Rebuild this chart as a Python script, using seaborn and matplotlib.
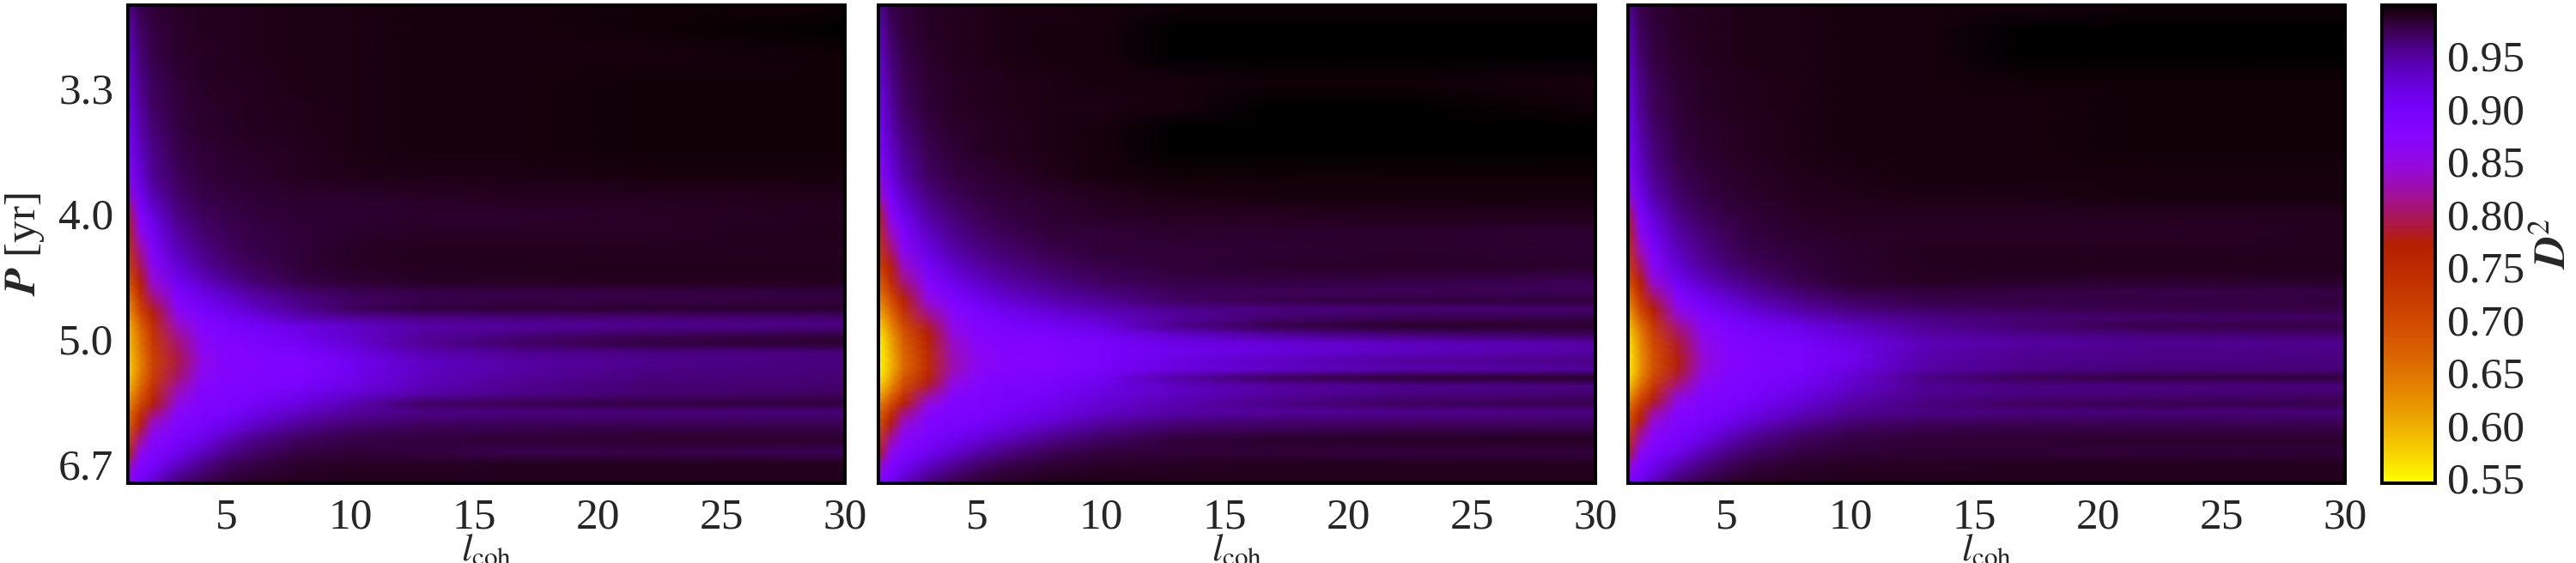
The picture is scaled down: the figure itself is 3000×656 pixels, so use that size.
import numpy as np
import pandas as pd
import matplotlib
matplotlib.use('Agg')
import matplotlib.pyplot as plt
import seaborn as sns

# coherence length samples and frequency rows (1/yr), top row first
l_coh = [1, 1.5, 2, 3, 4, 5, 6, 8, 10, 13, 17, 22, 30]
freq = [.33322, .32329, .31301, .30274, .29247, .28390, .27534, .26507, .25651,
        .24966, .24281, .23596, .22911, .22226, .21884, .21541, .21199, .20856,
        .20514, .20171, .19829, .19486, .19144, .18801, .18459, .18116, .17774,
        .17431, .17089, .16746, .16404, .15993, .15479, .15034, .14623, .14247]

x_ticks = [5, 10, 15, 20, 25, 30]
y_ticks = [.3, .25, .2, .15]
y_labels = ['3.3', '4.0', '5.0', '6.7']
cbar_ticks = [.55, .6, .65, .7, .75, .8, .85, .9, .95]

# D^2 x 1000
d2_left = [
    [955, 975, 981, 986, 988, 989, 990, 991, 992, 993, 993, 995, 995],
    [938, 968, 978, 985, 988, 989, 990, 991, 992, 993, 993, 996, 999],
    [930, 962, 975, 984, 987, 989, 990, 991, 992, 993, 994, 994, 995],
    [920, 956, 971, 982, 986, 988, 989, 991, 992, 993, 994, 995, 995],
    [910, 950, 968, 980, 985, 987, 988, 990, 992, 993, 994, 995, 995],
    [900, 942, 963, 978, 984, 986, 988, 990, 991, 993, 994, 995, 995],
    [890, 935, 957, 975, 982, 985, 987, 989, 991, 993, 994, 995, 995],
    [870, 925, 952, 971, 979, 983, 985, 988, 990, 991, 992, 993, 994],
    [835, 905, 940, 965, 975, 980, 982, 984, 985, 987, 988, 989, 990],
    [790, 880, 920, 958, 970, 976, 980, 983, 983, 984, 985, 987, 988],
    [760, 855, 905, 948, 965, 973, 978, 982, 984, 986, 987, 987, 990],
    [735, 820, 885, 938, 958, 968, 975, 982, 986, 988, 988, 989, 989],
    [715, 795, 865, 925, 950, 963, 971, 981, 986, 989, 990, 990, 990],
    [680, 770, 840, 905, 932, 950, 961, 976, 982, 986, 987, 988, 988],
    [660, 750, 820, 890, 920, 936, 950, 965, 973, 976, 977, 978, 979],
    [640, 730, 800, 876, 908, 926, 941, 958, 969, 975, 977, 978, 979],
    [625, 712, 782, 864, 898, 915, 931, 952, 970, 980, 982, 983, 984],
    [610, 690, 762, 848, 886, 902, 916, 940, 950, 958, 962, 964, 966],
    [595, 670, 742, 830, 878, 892, 902, 918, 932, 945, 950, 955, 958],
    [590, 658, 730, 815, 872, 888, 896, 912, 930, 950, 962, 971, 977],
    [586, 652, 722, 805, 865, 882, 890, 905, 926, 953, 968, 979, 985],
    [582, 645, 717, 797, 860, 878, 884, 894, 915, 944, 955, 960, 962],
    [577, 640, 708, 790, 855, 876, 881, 888, 908, 936, 947, 955, 960],
    [575, 640, 710, 795, 860, 878, 882, 888, 908, 935, 948, 958, 962],
    [580, 648, 718, 803, 866, 881, 884, 890, 910, 937, 951, 960, 964],
    [593, 662, 733, 820, 873, 883, 886, 896, 916, 941, 955, 963, 966],
    [610, 680, 750, 835, 880, 885, 891, 910, 928, 947, 958, 966, 970],
    [630, 702, 770, 850, 884, 890, 899, 920, 940, 968, 974, 979, 982],
    [650, 730, 798, 868, 888, 897, 910, 934, 950, 958, 960, 961, 962],
    [662, 760, 825, 878, 893, 907, 923, 945, 958, 966, 968, 969, 970],
    [680, 785, 848, 885, 900, 920, 937, 958, 968, 974, 976, 977, 978],
    [710, 815, 868, 892, 913, 938, 955, 970, 976, 980, 982, 984, 985],
    [760, 855, 885, 908, 936, 954, 966, 978, 982, 979, 974, 975, 973],
    [815, 878, 895, 930, 954, 968, 976, 984, 987, 987, 988, 988, 988],
    [850, 890, 912, 950, 966, 976, 982, 987, 988, 988, 988, 988, 988],
    [875, 900, 932, 962, 974, 981, 985, 988, 989, 989, 990, 990, 990],
]
d2_mid = [
    [950, 975, 982, 987, 989, 990, 991, 992, 993, 995, 996, 996, 996],
    [935, 968, 979, 986, 989, 990, 991, 993, 994, 999, 999, 999, 999],
    [925, 962, 976, 985, 988, 990, 991, 993, 994, 997, 999, 999, 999],
    [915, 955, 972, 983, 987, 989, 990, 992, 993, 994, 995, 995, 994],
    [905, 948, 968, 981, 986, 988, 990, 992, 992, 993, 998, 998, 996],
    [895, 940, 962, 978, 984, 987, 989, 991, 993, 999, 999, 999, 997],
    [880, 930, 955, 974, 982, 986, 988, 991, 994, 999, 999, 999, 998],
    [855, 915, 945, 968, 977, 982, 985, 990, 993, 995, 996, 996, 995],
    [825, 890, 930, 958, 970, 977, 981, 985, 988, 992, 993, 993, 993],
    [780, 865, 910, 948, 963, 972, 977, 983, 986, 988, 989, 990, 990],
    [750, 835, 890, 935, 955, 966, 973, 981, 982, 984, 985, 985, 983],
    [730, 805, 865, 920, 945, 958, 966, 976, 981, 982, 983, 985, 983],
    [710, 775, 835, 900, 930, 946, 956, 968, 975, 981, 985, 987, 984],
    [670, 740, 805, 875, 910, 930, 943, 958, 968, 975, 977, 976, 973],
    [650, 715, 785, 860, 900, 920, 935, 950, 960, 970, 973, 972, 972],
    [630, 690, 762, 845, 888, 908, 924, 942, 952, 968, 975, 980, 982],
    [610, 670, 738, 825, 875, 895, 912, 930, 942, 955, 960, 963, 965],
    [590, 650, 718, 805, 865, 885, 900, 918, 930, 950, 965, 972, 976],
    [575, 630, 698, 785, 855, 880, 890, 905, 920, 955, 975, 985, 985],
    [560, 615, 683, 770, 845, 875, 885, 892, 905, 930, 950, 962, 970],
    [550, 605, 673, 760, 835, 870, 880, 885, 897, 915, 925, 935, 945],
    [547, 600, 665, 750, 830, 866, 876, 882, 894, 912, 922, 935, 948],
    [547, 595, 660, 745, 825, 862, 874, 880, 894, 918, 935, 950, 958],
    [548, 597, 662, 747, 828, 865, 877, 884, 897, 920, 932, 942, 950],
    [555, 610, 678, 762, 840, 872, 882, 890, 907, 945, 970, 982, 985],
    [575, 630, 698, 785, 855, 878, 888, 896, 914, 935, 948, 955, 960],
    [600, 660, 728, 815, 870, 884, 892, 902, 920, 936, 950, 960, 965],
    [630, 695, 762, 845, 880, 888, 896, 910, 926, 942, 958, 970, 975],
    [660, 735, 803, 868, 886, 892, 900, 916, 932, 945, 950, 955, 958],
    [680, 765, 828, 880, 890, 896, 908, 926, 944, 958, 963, 966, 967],
    [700, 790, 850, 885, 897, 906, 920, 940, 956, 968, 973, 975, 975],
    [730, 820, 868, 892, 908, 923, 937, 956, 968, 980, 985, 987, 988],
    [775, 855, 885, 906, 928, 944, 957, 972, 979, 982, 981, 980, 980],
    [825, 880, 900, 930, 950, 963, 972, 981, 985, 987, 988, 988, 988],
    [855, 895, 915, 948, 963, 974, 981, 986, 988, 989, 989, 989, 989],
    [880, 905, 935, 962, 974, 981, 985, 989, 990, 991, 991, 991, 992],
]
d2_right = [
    [955, 976, 982, 987, 989, 990, 991, 992, 993, 993, 994, 995, 995],
    [940, 970, 980, 986, 989, 990, 991, 992, 993, 993, 997, 999, 999],
    [930, 965, 977, 985, 988, 990, 991, 992, 993, 994, 998, 998, 997],
    [920, 958, 973, 983, 987, 989, 990, 992, 993, 994, 995, 995, 995],
    [910, 952, 970, 982, 986, 988, 990, 992, 993, 994, 994, 995, 995],
    [900, 945, 965, 980, 985, 987, 989, 991, 993, 994, 994, 995, 995],
    [890, 938, 960, 977, 983, 986, 988, 991, 993, 994, 994, 995, 995],
    [870, 928, 952, 972, 980, 984, 987, 990, 992, 993, 993, 994, 994],
    [840, 908, 942, 965, 975, 981, 985, 989, 990, 991, 992, 993, 993],
    [795, 888, 925, 958, 970, 977, 982, 986, 988, 988, 988, 988, 988],
    [765, 860, 908, 948, 964, 973, 979, 984, 986, 987, 987, 987, 988],
    [740, 830, 890, 938, 957, 968, 975, 982, 985, 988, 989, 989, 989],
    [720, 800, 868, 925, 950, 962, 971, 980, 985, 988, 990, 990, 990],
    [685, 770, 838, 905, 932, 948, 959, 974, 983, 986, 985, 983, 984],
    [660, 745, 812, 886, 918, 935, 949, 965, 975, 979, 978, 976, 978],
    [640, 725, 792, 868, 905, 924, 940, 957, 968, 975, 977, 978, 979],
    [620, 705, 772, 850, 892, 912, 928, 948, 960, 968, 972, 976, 978],
    [600, 680, 748, 832, 878, 898, 914, 934, 948, 958, 964, 967, 968],
    [585, 655, 723, 810, 868, 888, 900, 917, 934, 952, 966, 975, 978],
    [570, 640, 708, 795, 858, 882, 893, 907, 926, 945, 955, 961, 965],
    [562, 630, 698, 785, 850, 878, 887, 898, 916, 938, 948, 952, 955],
    [558, 625, 690, 780, 845, 875, 884, 894, 913, 942, 952, 956, 958],
    [555, 622, 688, 775, 842, 873, 883, 894, 913, 944, 955, 958, 960],
    [555, 622, 688, 778, 845, 875, 885, 897, 917, 946, 956, 961, 962],
    [565, 635, 700, 790, 855, 880, 887, 902, 926, 958, 972, 978, 980],
    [585, 655, 723, 812, 868, 884, 890, 908, 930, 952, 958, 960, 961],
    [610, 685, 752, 838, 878, 887, 895, 918, 938, 954, 960, 964, 967],
    [640, 715, 783, 858, 884, 892, 903, 926, 945, 960, 970, 974, 975],
    [670, 750, 815, 875, 890, 899, 914, 936, 952, 958, 960, 961, 961],
    [690, 775, 838, 883, 894, 908, 925, 948, 961, 967, 970, 971, 971],
    [710, 800, 855, 888, 903, 922, 940, 960, 970, 975, 977, 978, 978],
    [735, 825, 872, 895, 915, 938, 954, 970, 978, 981, 983, 984, 984],
    [780, 860, 888, 912, 938, 956, 967, 978, 982, 983, 982, 982, 982],
    [830, 885, 905, 935, 956, 968, 977, 984, 987, 987, 988, 988, 988],
    [860, 898, 920, 952, 967, 977, 983, 987, 988, 988, 988, 988, 988],
    [885, 910, 940, 965, 976, 983, 986, 989, 990, 990, 990, 990, 990],
]

sns.set_style('ticks')
plt.rcParams['font.family'] = ['Liberation Serif', 'DejaVu Serif']
plt.rcParams['mathtext.fontset'] = 'stix'
FS = 37
cmap = sns.color_palette('gnuplot_r', as_cmap=True)
VMIN, VMAX = 0.545, 0.998

col_idx = np.arange(len(l_coh), dtype=float)
row_idx = np.arange(len(freq), dtype=float)
neg_freq = -np.array(freq)


def x_fwd(v):
    return np.interp(v, col_idx, l_coh)


def x_inv(v):
    return np.interp(v, l_coh, col_idx)


def y_fwd(v):
    return np.interp(v, row_idx, neg_freq)


def y_inv(v):
    return np.interp(v, neg_freq, row_idx)


def draw_panel(ax, values, **kwargs):
    df = pd.DataFrame(np.array(values) / 1000, index=freq, columns=l_coh)
    sns.heatmap(df, ax=ax, cmap=cmap, vmin=VMIN, vmax=VMAX, shading='gouraud',
                xticklabels=False, yticklabels=False, **kwargs)
    # sample spacing is uneven, so positions go through function scales
    ax.set_xscale('function', functions=(x_fwd, x_inv))
    ax.set_yscale('function', functions=(y_fwd, y_inv))
    ax.set_xlim(0, len(l_coh) - 1)
    ax.set_ylim(len(freq) - 1, 0)
    ax.set_xticks(x_inv(x_ticks), labels=[str(t) for t in x_ticks])
    ax.set_yticks(y_inv(-np.array(y_ticks)), labels=y_labels)
    ax.minorticks_off()
    ax.tick_params(direction='in', length=11, width=2.2, labelsize=FS, color='black',
                   top=True, right=True, pad=12)
    for s in ax.spines.values():
        s.set_visible(True)
        s.set_linewidth(2.9)
        s.set_color('black')
    ax.set_xlabel(r'$l_{\mathrm{coh}}$', fontsize=32, labelpad=-4)
    ax.set_ylabel('')


W, H = 3000, 656
fig = plt.figure(figsize=(30, 6.56), dpi=100)
left_edges = [149, 1023, 1896]
axes = [fig.add_axes([x / W, 1 - 563 / H, 835 / W, 557 / H]) for x in left_edges]
cax = fig.add_axes([2774 / W, 1 - 563 / H, 62 / W, 557 / H])

draw_panel(axes[0], d2_left, cbar=False)
draw_panel(axes[1], d2_mid, cbar=False)
draw_panel(axes[2], d2_right, cbar_ax=cax, cbar_kws={'ticks': cbar_ticks, 'format': '%.2f'})

axes[0].set_ylabel(r'$\mathbfit{P}$ [yr]', fontsize=FS, labelpad=10)
axes[1].set_yticklabels([])
axes[2].set_yticklabels([])

cb = axes[2].collections[0].colorbar
cb.outline.set_linewidth(2.9)
cb.outline.set_edgecolor('black')
cb.ax.tick_params(direction='in', length=11, width=2.2, labelsize=FS, color='black', pad=10)
cb.ax.minorticks_off()
cb.set_label(r'$\mathbfit{D}^2$', fontsize=FS, labelpad=8)

plt.savefig('out.png', dpi=100)
plt.close()
